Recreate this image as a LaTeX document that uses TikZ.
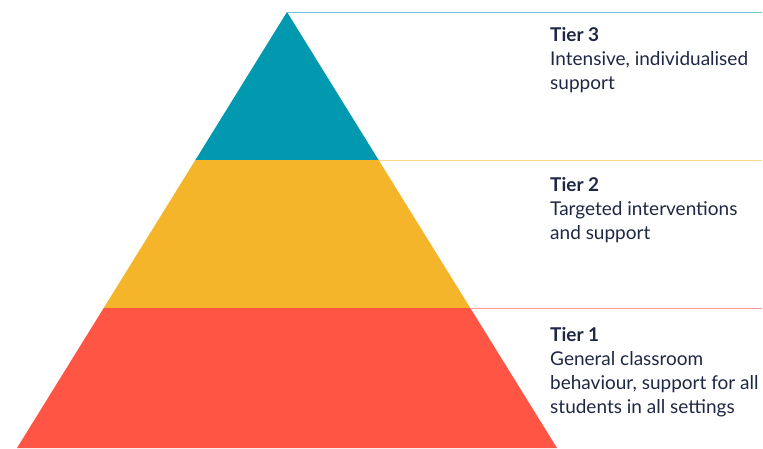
\documentclass[tikz,border=0pt]{standalone}
\usepackage{fontspec}
\setmainfont{Lato}
\definecolor{tierthree}{HTML}{0099B0}
\definecolor{tiertwo}{HTML}{F5B52B}
\definecolor{tierone}{HTML}{FF5544}
\definecolor{labeltext}{HTML}{1E2745}
\begin{document}
\begin{tikzpicture}[x=1pt,y=-1pt,
  guide/.style={line width=1.5pt},
  tierlabel/.style={anchor=north west, align=left, inner sep=0pt,
    text=labeltext, font=\fontsize{19}{24}\selectfont}]
\useasboundingbox (0,0) rectangle (763,448);
% pyramid corners
\coordinate (apex) at (287,12);
\coordinate (l3) at (195.4,160);
\coordinate (r3) at (378.6,160);
\coordinate (l2) at (103.7,308);
\coordinate (r2) at (470.3,308);
\coordinate (l1) at (17,448);
\coordinate (r1) at (557,448);
% guide line ends
\coordinate (e3) at (762,12.5);
\coordinate (e2) at (762,160.5);
\coordinate (e1) at (762,308.5);
% tiers
\fill[tierthree] (apex) -- (r3) -- (l3) -- cycle;
\fill[tiertwo] (l3) -- (r3) -- (r2) -- (l2) -- cycle;
\fill[tierone] (l2) -- (r2) -- (r1) -- (l1) -- cycle;
% guide lines
\draw[guide, tierthree!55] (apex |- e3) -- (e3);
\draw[guide, tiertwo!55] (r3 |- e2) -- (e2);
\draw[guide, tierone!60] (r2 |- e1) -- (e1);
% labels
\node[tierlabel] (t3) at (550,27) {\textbf{Tier 3}\\Intensive, individualised\\support};
\node[tierlabel] (t2) at (550,177) {\textbf{Tier 2}\\Targeted interventions\\and support};
\node[tierlabel] (t1) at (550,327) {\textbf{Tier 1}\\General classroom\\behaviour, support for all\\students in all settings};
\end{tikzpicture}
\end{document}
